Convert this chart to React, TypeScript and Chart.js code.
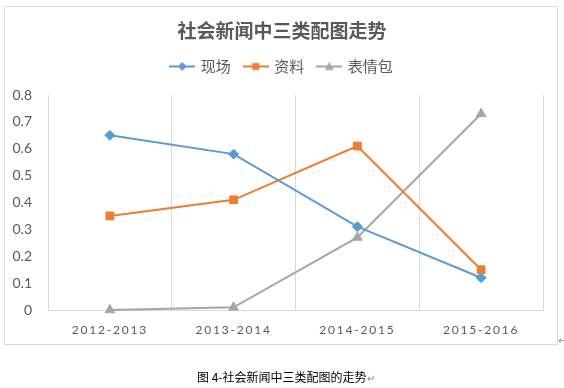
import React, { useEffect, useRef } from 'react';
import { Chart, registerables } from 'chart.js';

Chart.register(...registerables);

const categories = ['2012-2013', '2013-2014', '2014-2015', '2015-2016'];
const seriesNames = ['现场', '资料', '表情包'];
const xianchang = [0.65, 0.58, 0.31, 0.12];
const ziliao = [0.35, 0.41, 0.61, 0.15];
const biaoqingbao = [0, 0.01, 0.27, 0.73];
const yTickValues = [0, 0.1, 0.2, 0.3, 0.4, 0.5, 0.6, 0.7, 0.8];
const chartTitle = '社会新闻中三类配图走势';
const captionText = '图 4-社会新闻中三类配图的走势';

const COLORS = ['#5B9BD5', '#ED7D31', '#A5A5A5'];
const SHAPES = ['diamond', 'square', 'triangle'];
const TEXT = '#595959';
const GRID = '#d9d9d9';

function makeIcon(color: string, shape: string) {
  const c = document.createElement('canvas');
  c.width = 26;
  c.height = 12;
  const g = c.getContext('2d')!;
  g.strokeStyle = color;
  g.lineWidth = 2;
  g.beginPath();
  g.moveTo(0, 6);
  g.lineTo(26, 6);
  g.stroke();
  g.fillStyle = color;
  g.beginPath();
  if (shape === 'diamond') {
    g.moveTo(13, 1.5);
    g.lineTo(17.5, 6);
    g.lineTo(13, 10.5);
    g.lineTo(8.5, 6);
  } else if (shape === 'square') {
    g.rect(9.5, 2.5, 7, 7);
  } else {
    g.moveTo(13, 1.5);
    g.lineTo(17.5, 9.5);
    g.lineTo(8.5, 9.5);
  }
  g.closePath();
  g.fill();
  return c;
}

const framePlugin = {
  id: 'frame',
  beforeLayout(chart: any) {
    const lg: any = chart.legend;
    if (lg && !lg.__p) {
      const f = lg.fit.bind(lg);
      lg.fit = () => {
        f();
        lg.height += 11;
      };
      lg.__p = true;
    }
  },
  beforeDraw(chart: any) {
    const ctx = chart.ctx;
    ctx.save();
    ctx.strokeStyle = GRID;
    ctx.lineWidth = 1;
    ctx.strokeRect(4.5, 6.5, 553, 338);
    ctx.restore();
    const s: any = chart.scales.x;
    if (s && !s.__ls) {
      const orig = s.drawLabels.bind(s);
      s.drawLabels = (ca: any) => {
        const c: any = chart.ctx;
        c.save();
        c.letterSpacing = '1.8px';
        orig(ca);
        c.restore();
      };
      s.__ls = true;
    }
  },
};

export default function App() {
  const ref = useRef<HTMLCanvasElement>(null);
  useEffect(() => {
    const icons = COLORS.map((c, i) => makeIcon(c, SHAPES[i]));
    const data = [xianchang, ziliao, biaoqingbao];
    const pointStyles = ['rectRot', 'rect', 'triangle'];
    const radii = [5, 5.5, 5.5];
    const chart = new Chart(ref.current!, {
      type: 'line',
      data: {
        labels: categories,
        datasets: seriesNames.map((name, i) => ({
          label: name,
          data: data[i],
          borderColor: COLORS[i],
          backgroundColor: COLORS[i],
          borderWidth: 2,
          pointStyle: pointStyles[i],
          pointRadius: radii[i],
          pointBorderWidth: 1,
          pointBackgroundColor: COLORS[i],
          pointBorderColor: COLORS[i],
          tension: 0,
          clip: false,
        })) as any,
      },
      options: {
        responsive: false,
        animation: false,
        devicePixelRatio: 1,
        layout: { padding: 0 },
        plugins: {
          tooltip: { enabled: false },
          title: {
            display: true,
            text: chartTitle,
            color: TEXT,
            font: { family: 'Noto Sans CJK SC', size: 19, weight: 'bold' },
            padding: { top: 7.2, bottom: 2.8 },
          },
          legend: {
            position: 'top',
            labels: {
              usePointStyle: true,
              pointStyleWidth: 22,
              padding: 14,
              color: TEXT,
              font: { family: 'Noto Sans CJK SC', size: 15 },
              generateLabels: (ch: any) =>
                (Chart.defaults.plugins.legend.labels.generateLabels as any)(ch).map((l: any, i: number) => ({
                  ...l,
                  pointStyle: icons[i],
                })),
            },
          },
        },
        scales: {
          x: {
            offset: true,
            grid: { display: true, offset: true, color: GRID, drawTicks: false, lineWidth: 1 },
            border: { display: true, color: GRID },
            ticks: { color: TEXT, padding: 13, font: { family: 'Lato', size: 12 } },
            afterFit: (s: any) => {
              s.height = 78;
              s.paddingRight = 21;
            },
          },
          y: {
            min: 0,
            max: 0.8,
            grid: { display: false, drawTicks: false },
            border: { display: false },
            afterBuildTicks: (s: any) => {
              s.ticks = yTickValues.map((v) => ({ value: v }));
            },
            ticks: {
              color: TEXT,
              padding: 16,
              font: { family: 'Lato', size: 14 },
              callback: (v: any) => (Number(v) === 0 ? '0' : Number(v).toFixed(1)),
            },
            afterFit: (s: any) => {
              s.width = 48;
              s.paddingTop = 95;
            },
          },
        },
      } as any,
      plugins: [framePlugin],
    });
    return () => chart.destroy();
  }, []);

  return (
    <div>
      <canvas
        ref={ref}
        width={564}
        height={388}
        style={{ position: 'fixed', left: 0, top: 0, width: 564, height: 388 }}
      />
      <div
        style={{
          position: 'fixed',
          left: 197,
          top: 368,
          font: '12px "Noto Sans CJK SC"',
          lineHeight: '18px',
          color: '#000',
          whiteSpace: 'nowrap',
        }}
      >
        {captionText}
        <span style={{ color: '#888', fontSize: 10 }}>↵</span>
      </div>
      <div
        style={{
          position: 'fixed',
          left: 558,
          top: 334,
          font: '10px "DejaVu Sans"',
          lineHeight: '14px',
          color: '#888',
        }}
      >
        ↵
      </div>
    </div>
  );
}
